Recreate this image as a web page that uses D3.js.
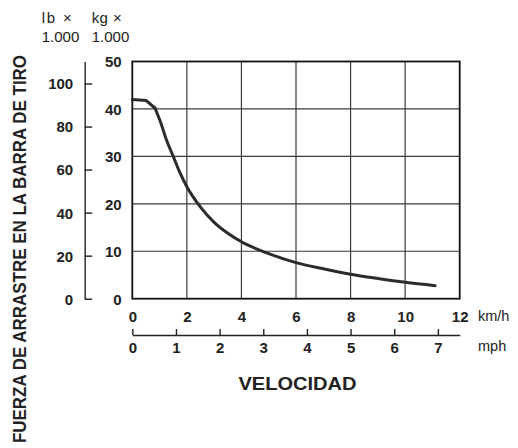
<!DOCTYPE html>
<html><head><meta charset="utf-8">
<script src="https://cdn.jsdelivr.net/npm/d3@7"></script>
<style>
html,body{margin:0;padding:0;background:#fff;}
svg{display:block;font-family:"Liberation Sans",Arial,Helvetica,sans-serif;}
</style></head>
<body>
<svg id="c" width="518" height="448"></svg>
<script>
// Data
const speedKmh = [0, 0.5, 0.83, 1.05, 1.25, 1.5, 1.75, 2, 2.5, 3, 3.5, 4, 5, 6, 7, 8, 9, 10, 11.1];
const forceKg  = [42, 41.8, 40.2, 37, 33.5, 30.0, 26.5, 23.6, 19.3, 16.1, 13.8, 12.0, 9.5, 7.6, 6.3, 5.15, 4.25, 3.45, 2.75];
const kgTicks  = [0, 10, 20, 30, 40, 50];
const lbTicks  = [0, 20, 40, 60, 80, 100];
const kmhTicks = [0, 2, 4, 6, 8, 10, 12];
const mphTicks = [0, 1, 2, 3, 4, 5, 6, 7];
const kmhUnit = "km/h", mphUnit = "mph";
const xTitle = "VELOCIDAD";
const yTitle = "FUERZA DE ARRASTRE EN LA BARRA DE TIRO";
const lbHead = ["lb \u00d7", "1.000"], kgHead = ["kg \u00d7", "1.000"];

const svg = d3.select("#c");
const L = 132.3, R = 459.7, T = 61.5, B = 298.7;
const x = d3.scaleLinear().domain([0, 12]).range([L, R]);
const y = d3.scaleLinear().domain([0, 50]).range([B, T]);
const mph = d3.scaleLinear().domain([0, 7.5]).range([L, R]);
const lbToKg = 0.45359;
const yLb = d3.scaleLinear().domain([0, 50 / lbToKg]).range([B, T]);

// grid
const g = svg.append("g");
g.selectAll(".vg").data(kmhTicks.slice(1, -1)).enter().append("line")
  .attr("x1", d => x(d)).attr("x2", d => x(d)).attr("y1", T).attr("y2", B)
  .attr("stroke", "#3a3a3a").attr("stroke-width", 1.2);
g.selectAll(".hg").data(kgTicks.slice(1, -1)).enter().append("line")
  .attr("y1", d => y(d)).attr("y2", d => y(d)).attr("x1", L).attr("x2", R)
  .attr("stroke", "#3a3a3a").attr("stroke-width", 1.2);
g.append("rect").attr("x", L).attr("y", T).attr("width", R - L).attr("height", B - T)
  .attr("fill", "none").attr("stroke", "#111").attr("stroke-width", 1.8);

// curve: sharp knee at the third point, smooth afterwards
const pts = speedKmh.map((v, i) => [v, forceKg[i]]);
const lineLin = d3.line().x(d => x(d[0])).y(d => y(d[1]));
const lineSm = d3.line().x(d => x(d[0])).y(d => y(d[1])).curve(d3.curveMonotoneX);
const curveStyle = sel => sel.attr("fill", "none").attr("stroke", "#2b2b2b").attr("stroke-width", 3)
  .attr("stroke-linejoin", "round").attr("stroke-linecap", "round");
svg.append("path").datum(pts.slice(0, 3)).attr("d", lineLin).call(curveStyle);
svg.append("path").datum(pts.slice(2)).attr("d", lineSm).call(curveStyle);

const boldNum = sel => sel.attr("font-weight", "bold").attr("font-size", 15).attr("fill", "#222");

// kg axis labels
const kgAx = svg.append("g").attr("transform", `translate(121.7,0)`)
  .call(d3.axisLeft(y).tickValues(kgTicks).tickSize(0).tickPadding(0).tickFormat(d3.format("d")));
kgAx.select(".domain").remove();
kgAx.selectAll("text").call(boldNum).attr("dy", "0.36em").attr("font-family", null);

// lb axis
const lbAx = svg.append("g").attr("transform", `translate(84.7,0)`)
  .call(d3.axisRight(yLb).tickValues(lbTicks).tickSizeInner(7.5).tickSizeOuter(0).tickFormat(d3.format("d")));
lbAx.select(".domain").attr("stroke", "#222").attr("stroke-width", 1.4);
lbAx.selectAll("line").attr("stroke", "#222").attr("stroke-width", 1.4);
lbAx.selectAll("text").call(boldNum).attr("x", -11.5).attr("text-anchor", "end")
  .attr("dy", "0.36em").attr("font-family", null);

// km/h labels
const kmAx = svg.append("g").attr("transform", `translate(0,310.5)`)
  .call(d3.axisBottom(x).tickValues(kmhTicks).tickSize(0).tickPadding(0).tickFormat(d3.format("d")));
kmAx.select(".domain").remove();
kmAx.selectAll("text").call(boldNum).attr("dy", "0.75em").attr("y", 0).attr("font-family", null);
svg.append("text").attr("x", 478).attr("y", 320.5).attr("font-size", 14.5).attr("fill", "#222").text(kmhUnit);

// mph axis
const mpAx = svg.append("g").attr("transform", `translate(0,335)`)
  .call(d3.axisTop(mph).tickValues(mphTicks).tickSizeInner(6).tickSizeOuter(0).tickFormat(d3.format("d")));
mpAx.select(".domain").attr("stroke", "#222").attr("stroke-width", 1.4);
mpAx.selectAll("line").attr("stroke", "#222").attr("stroke-width", 1.4);
mpAx.selectAll("text").call(boldNum).attr("y", 18.3).attr("dy", 0).attr("font-family", null);
svg.append("text").attr("x", 478).attr("y", 351).attr("font-size", 14.5).attr("fill", "#222").text(mphUnit);

// titles
svg.append("text").attr("x", 297.5).attr("y", 390).attr("text-anchor", "middle")
  .attr("font-weight", "bold").attr("font-size", 18.5).attr("fill", "#222")
  .attr("textLength", 118).attr("lengthAdjust", "spacingAndGlyphs").text(xTitle);
svg.append("text").attr("transform", "translate(26,249) rotate(-90)").attr("text-anchor", "middle")
  .attr("font-weight", "bold").attr("font-size", 18.5).attr("fill", "#222")
  .attr("textLength", 388).attr("lengthAdjust", "spacingAndGlyphs").text(yTitle);

// unit heads
[[41.7, lbHead], [91.7, kgHead]].forEach(([px, lines]) => {
  svg.append("text").attr("x", px).attr("y", 23.3).attr("font-size", 15).attr("fill", "#222")
    .attr("textLength", 30).attr("lengthAdjust", "spacing").text(lines[0]);
  svg.append("text").attr("x", px).attr("y", 41.7).attr("font-size", 15).attr("fill", "#222").text(lines[1]);
});
</script>
</body></html>
